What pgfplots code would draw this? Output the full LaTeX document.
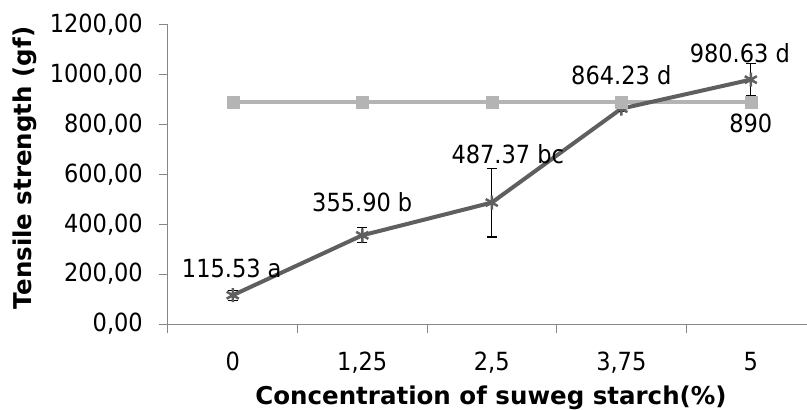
\documentclass[border=0pt]{standalone}
\usepackage{pgfplots}
\pgfplotsset{compat=1.18}
\usepackage{pgfplotstable}
\usepackage{fontspec}
\setmainfont{DejaVu Sans Condensed}
\newfontfamily\labelfont{DejaVu Sans}
\definecolor{darkser}{HTML}{5F5F5F}
\definecolor{lightser}{HTML}{B4B4B4}
\definecolor{axisgray}{HTML}{868686}

\pgfplotstableread{
x y err
0 115.53 20
1 355.90 30
2 487.37 138
3 864.23 10
4 980.63 65
}\tensile

\pgfplotstableread{
x y
0 890
1 890
2 890
3 890
4 890
}\reference

\begin{document}
\fontsize{25bp}{30bp}\selectfont
\begin{tikzpicture}
\begin{axis}[
  scale only axis, width=639bp, height=299bp,
  xmin=-0.5, xmax=4.434, ymin=0, ymax=1200,
  axis x line*=bottom, axis y line*=left,
  axis line style={axisgray, line width=1bp, -},
  clip=false,
  tick align=outside,
  major tick length=9bp, minor tick length=9bp,
  xtick={0,...,4}, xticklabels={0,{1,25},{2,5},{3,75},5},
  major x tick style={draw=none},
  minor xtick={-0.5,0.5,1.5,2.5,3.5},
  minor x tick style={axisgray, line width=1bp},
  ytick={0,200,...,1200},
  yticklabels={{0,00},{200,00},{400,00},{600,00},{800,00},{1000,00},{1200,00}},
  major y tick style={axisgray, line width=1bp},
  yticklabel style={anchor=east, inner sep=0pt, xshift=-16bp},
  xticklabel style={anchor=base, inner sep=0pt, yshift=-37bp},
  tick label style={font=\fontsize{25bp}{30bp}\selectfont},
  xlabel={\labelfont\bfseries Concentration of suweg starch(\%)},
  ylabel={\labelfont\bfseries Tensile strength (gf)},
  xlabel style={at={(axis description cs:0.5055,-0.2676)}, anchor=base, inner sep=0pt, font=\fontsize{24.5bp}{30bp}\selectfont},
  ylabel style={at={(axis description cs:-0.2238,0.522)}, anchor=center, inner sep=0pt, font=\fontsize{24.5bp}{30bp}\selectfont},
]
\addplot[lightser, line width=4bp, mark=none] table[x=x,y=y]{\reference};
\addplot[darkser, line width=4bp, mark=asterisk, mark size=7bp,
  mark options={line width=2.5bp},
  error bars/.cd, y dir=both, y explicit,
  error bar style={black, line width=1.2bp},
  error mark options={black, line width=1.2bp, rotate=90, mark size=5bp}]
  table[x=x,y=y,y error=err]{\tensile};
\addplot[lightser, only marks, mark=square*, mark size=6bp] table[x=x,y=y]{\reference};

\node[anchor=center] at (axis cs:0,115.53) [xshift=-1bp, yshift=27bp] {115.53 a};
\node[anchor=center] at (axis cs:1,355.90) [yshift=33bp] {355.90 b};
\node[anchor=center] at (axis cs:2,487.37) [xshift=16bp, yshift=48bp] {487.37 bc};
\node[anchor=center] at (axis cs:3,864.23) [yshift=33bp] {864.23 d};
\node[anchor=center] at (axis cs:4,980.63) [xshift=-11bp, yshift=26bp] {980.63 d};
\node[anchor=center] at (axis cs:4,890) [yshift=-21bp] {890};
\end{axis}
\pgfresetboundingbox
\path (-168bp,-86bp) rectangle (639bp,324bp);
\end{tikzpicture}
\end{document}
